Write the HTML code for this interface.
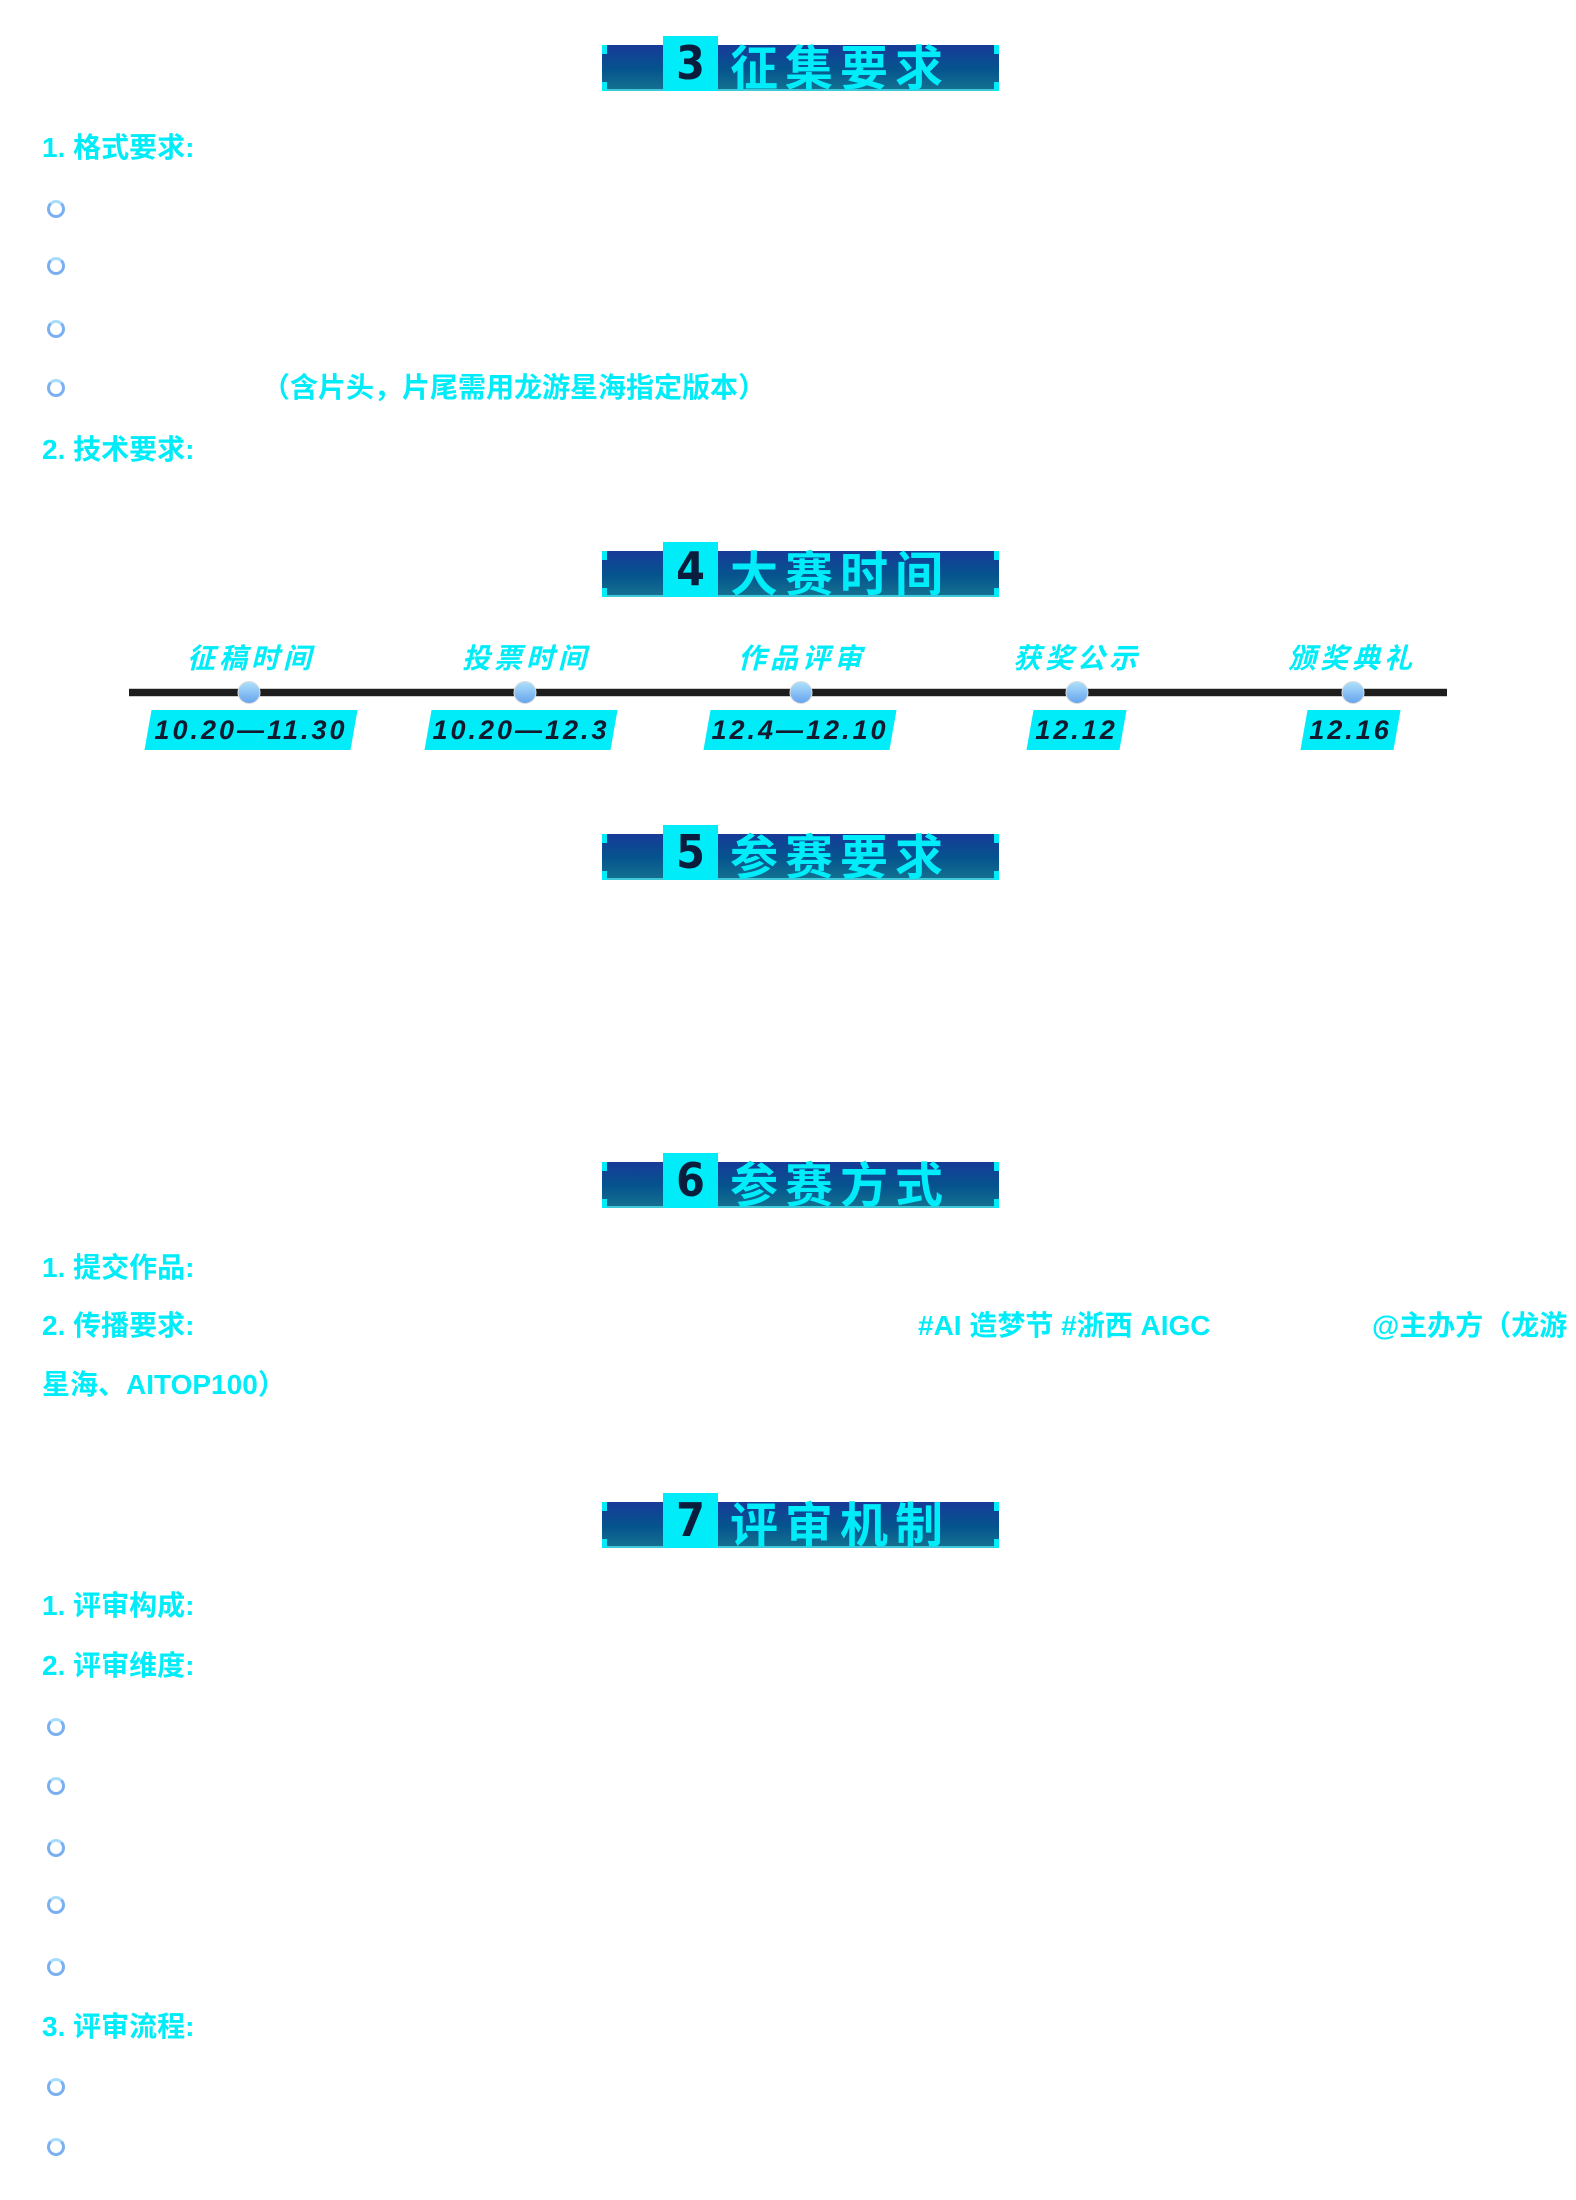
<!DOCTYPE html>
<html><head><meta charset="utf-8"><style>
*{margin:0;padding:0;box-sizing:border-box}
body{width:1576px;height:2200px;background:#fff;position:relative;overflow:hidden;font-family:"Liberation Sans","Noto Sans CJK SC",sans-serif;color:#00ecf8}
.abs{position:absolute}
.ban{position:absolute;left:602px;width:397px;height:55px}
.ban .bar{position:absolute;left:0;top:9px;width:397px;height:46px;background:linear-gradient(#173a98,#05548e 55%,#137090);border-bottom:2px solid #3fc9d8}
.ban .c{position:absolute;width:5px;height:9px;background:#00ecf8}
.ban .sq{position:absolute;left:61px;top:0;width:55px;height:55px;background:#00ecf8;color:#0b1d3d;font:bold 46px "DejaVu Sans Condensed","Liberation Sans",sans-serif;text-align:center;line-height:55px}
.ban .t{position:absolute;left:128px;top:2px;font:bold 48px "Noto Sans CJK SC",sans-serif;letter-spacing:7px;color:#00ecf8;line-height:52px;white-space:nowrap}
.h{position:absolute;left:42px;font-weight:bold;font-size:28px;line-height:34px;white-space:nowrap}
.b{position:absolute;left:47px;width:18px;height:18px;border-radius:50%;border:3px solid #7ab0f0;border-top-color:#a9dcfb;background:#fff}
.lab{position:absolute;top:637px;font:italic bold 28px "Noto Sans CJK SC",sans-serif;letter-spacing:4px;transform:translateX(-50%);white-space:nowrap}
.dot{position:absolute;top:681px;width:23px;height:23px;border-radius:50%;background:linear-gradient(#aee0fb,#66a4ee);border:1px solid #ddd;transform:translateX(-50%)}
.dt{position:absolute;top:710px;height:40px;background:#00ecf8;transform:skewX(-10deg)}
.dt span{display:block;transform:skewX(10deg);font:italic bold 27px "Liberation Sans",sans-serif;color:#111a2e;text-align:center;line-height:40px;letter-spacing:3px;white-space:nowrap}
</style></head><body>

<div class="ban" style="top:36px"><div class="bar"></div><div class="c" style="left:0;top:9px"></div><div class="c" style="right:0;top:9px"></div><div class="c" style="left:0;bottom:0"></div><div class="c" style="right:0;bottom:0"></div><div class="sq">3</div><div class="t">征集要求</div></div>
<div class="h" style="top:131px">1. 格式要求:</div>
<div class="b" style="top:200px"></div>
<div class="b" style="top:257px"></div>
<div class="b" style="top:320px"></div>
<div class="b" style="top:379px"></div>
<div class="h" style="top:371px;left:262px">（含片头，片尾需用龙游星海指定版本）</div>
<div class="h" style="top:433px">2. 技术要求:</div>

<div class="ban" style="top:542px"><div class="bar"></div><div class="c" style="left:0;top:9px"></div><div class="c" style="right:0;top:9px"></div><div class="c" style="left:0;bottom:0"></div><div class="c" style="right:0;bottom:0"></div><div class="sq">4</div><div class="t">大赛时间</div></div>

<div class="abs" style="left:129px;top:688px;width:1318px;height:9px;background:#1d1d1d;border-top:1px solid #ccc;border-bottom:1px solid #ccc"></div>
<div class="lab" style="left:251px">征稿时间</div>
<div class="lab" style="left:526px">投票时间</div>
<div class="lab" style="left:802px">作品评审</div>
<div class="lab" style="left:1077px">获奖公示</div>
<div class="lab" style="left:1352px">颁奖典礼</div>
<div class="dot" style="left:249px"></div>
<div class="dot" style="left:525px"></div>
<div class="dot" style="left:801px"></div>
<div class="dot" style="left:1077px"></div>
<div class="dot" style="left:1353px"></div>
<div class="dt" style="left:148px;width:206px"><span>10.20—11.30</span></div>
<div class="dt" style="left:428px;width:186px"><span>10.20—12.3</span></div>
<div class="dt" style="left:707px;width:186px"><span>12.4—12.10</span></div>
<div class="dt" style="left:1030px;width:93px"><span>12.12</span></div>
<div class="dt" style="left:1304px;width:93px"><span>12.16</span></div>

<div class="ban" style="top:825px"><div class="bar"></div><div class="c" style="left:0;top:9px"></div><div class="c" style="right:0;top:9px"></div><div class="c" style="left:0;bottom:0"></div><div class="c" style="right:0;bottom:0"></div><div class="sq">5</div><div class="t">参赛要求</div></div>

<div class="ban" style="top:1153px"><div class="bar"></div><div class="c" style="left:0;top:9px"></div><div class="c" style="right:0;top:9px"></div><div class="c" style="left:0;bottom:0"></div><div class="c" style="right:0;bottom:0"></div><div class="sq">6</div><div class="t">参赛方式</div></div>
<div class="h" style="top:1251px">1. 提交作品:</div>
<div class="h" style="top:1309px">2. 传播要求:</div>
<div class="h" style="top:1309px;left:918px">#AI 造梦节 #浙西 AIGC</div>
<div class="h" style="top:1309px;left:1372px">@主办方（龙游</div>
<div class="h" style="top:1368px">星海、AITOP100）</div>

<div class="ban" style="top:1493px"><div class="bar"></div><div class="c" style="left:0;top:9px"></div><div class="c" style="right:0;top:9px"></div><div class="c" style="left:0;bottom:0"></div><div class="c" style="right:0;bottom:0"></div><div class="sq">7</div><div class="t">评审机制</div></div>
<div class="h" style="top:1589px">1. 评审构成:</div>
<div class="h" style="top:1649px">2. 评审维度:</div>
<div class="b" style="top:1718px"></div>
<div class="b" style="top:1777px"></div>
<div class="b" style="top:1839px"></div>
<div class="b" style="top:1896px"></div>
<div class="b" style="top:1958px"></div>
<div class="h" style="top:2010px">3. 评审流程:</div>
<div class="b" style="top:2078px"></div>
<div class="b" style="top:2138px"></div>
</body></html>
